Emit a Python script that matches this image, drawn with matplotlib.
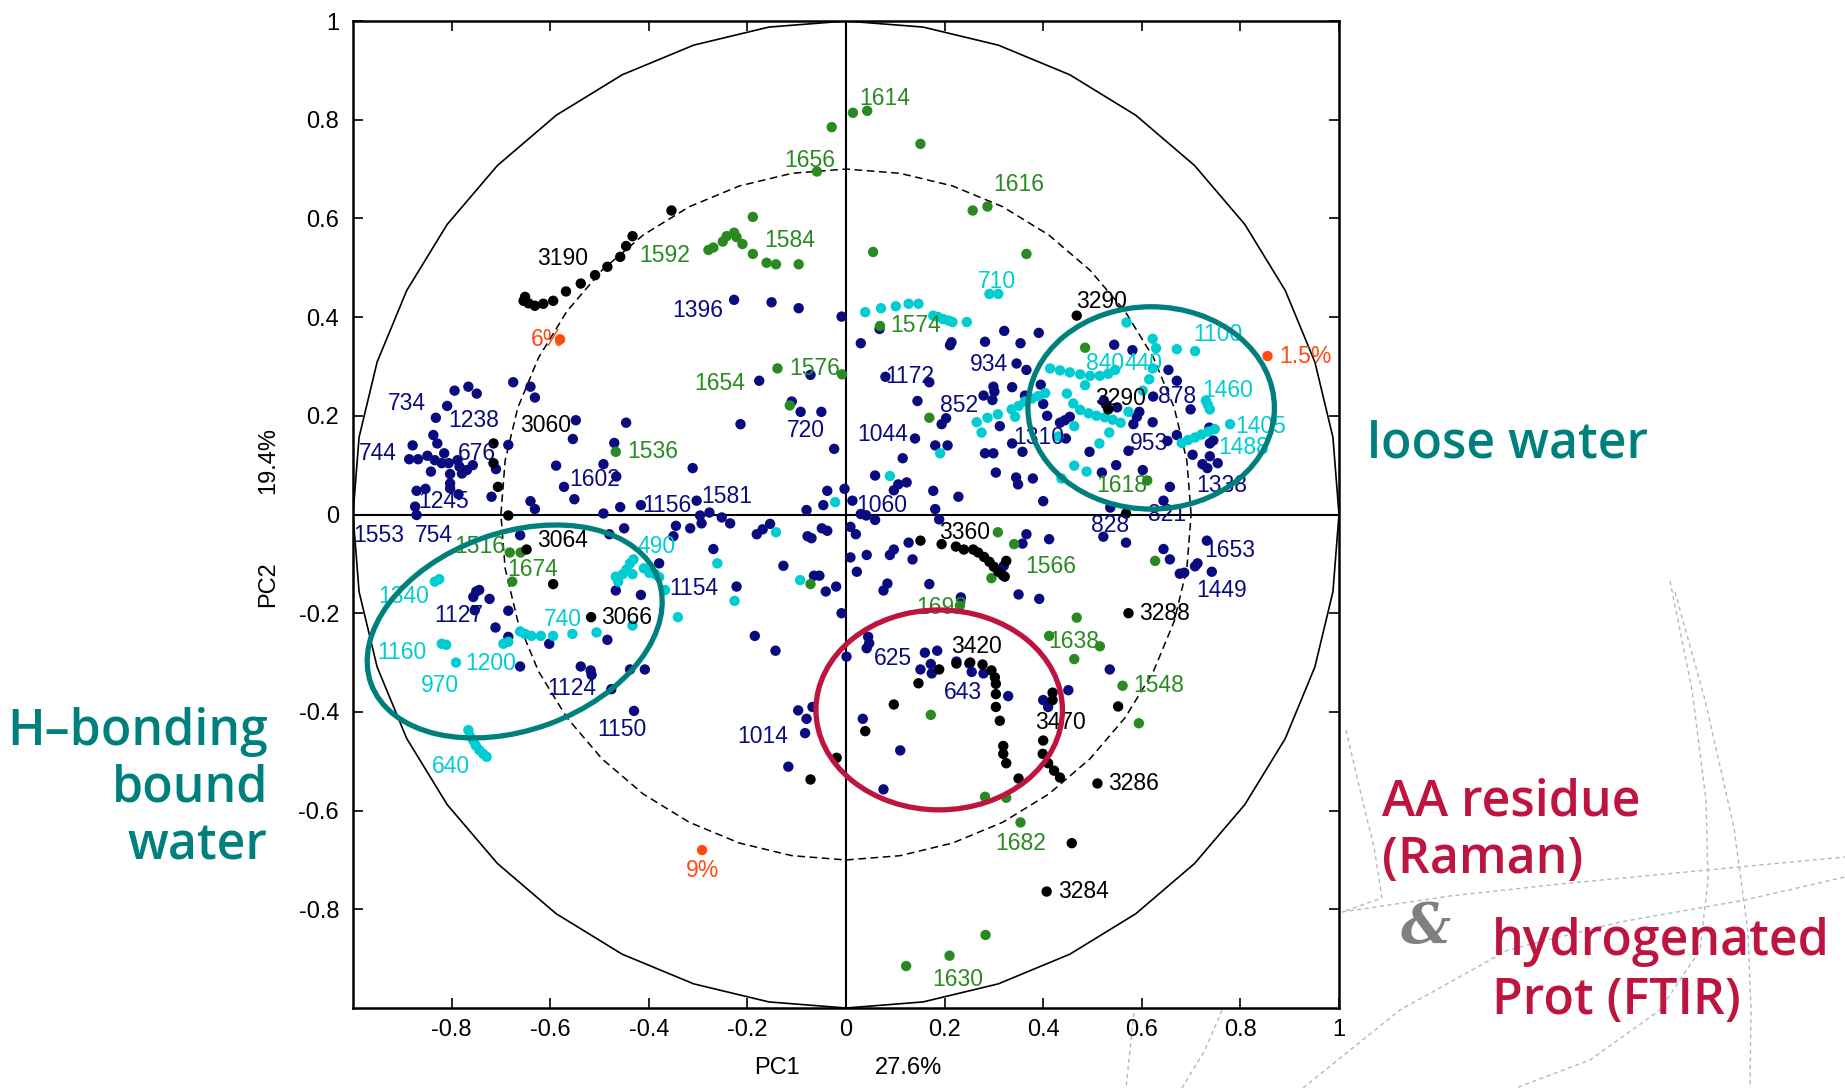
#!/usr/bin/env python3
# -*- coding: utf-8 -*-
"""PCA correlation circle: Raman / FTIR bands vs water content."""

import numpy as np
import matplotlib
matplotlib.use("Agg")
from matplotlib import pyplot as plt
from matplotlib.lines import Line2D
from matplotlib.patches import Ellipse

# ---- data (PC1, PC2) ----
navy_pts = [
    (-0.227, 0.435), (-0.151, 0.430), (-0.096, 0.418), (-0.009, 0.401), (0.030, 0.347),
    (-0.176, 0.271), (-0.072, 0.283), (-0.110, 0.229), (-0.092, 0.208), (-0.050, 0.208),
    (-0.214, 0.183), (-0.024, 0.133), (-0.038, 0.048), (-0.003, 0.052), (-0.080, 0.009),
    (-0.046, 0.019), (0.013, 0.028), (-0.311, 0.094), (-0.446, 0.186), (-0.548, 0.191),
    (-0.554, 0.153), (-0.588, 0.099), (-0.572, 0.056), (-0.551, 0.031), (-0.492, 0.102),
    (-0.470, 0.145), (-0.466, 0.077), (-0.640, 0.027), (-0.631, 0.011), (-0.492, 0.002),
    (-0.458, 0.015), (-0.416, 0.019), (-0.303, 0.028), (-0.296, -0.002), (-0.277, 0.004),
    (-0.719, 0.036), (-0.685, 0.141), (-0.675, 0.268), (-0.640, 0.259), (-0.631, 0.237),
    (-0.794, 0.251), (-0.766, 0.259), (-0.749, 0.245), (-0.809, 0.220), (-0.832, 0.196),
    (-0.837, 0.161), (-0.829, 0.144), (-0.815, 0.124), (-0.879, 0.140), (-0.886, 0.112),
    (-0.868, 0.112), (-0.849, 0.119), (-0.834, 0.110), (-0.820, 0.104), (-0.806, 0.104),
    (-0.842, 0.087), (-0.803, 0.082), (-0.788, 0.110), (-0.784, 0.097), (-0.779, 0.083),
    (-0.769, 0.090), (-0.757, 0.100), (-0.803, 0.063), (-0.803, 0.053), (-0.786, 0.041),
    (-0.871, 0.048), (-0.853, 0.052), (-0.874, 0.016), (-0.871, -0.001), (-0.710, 0.092),
    (0.068, 0.376), (0.211, 0.343), (0.214, 0.349), (0.282, 0.350), (0.321, 0.372),
    (0.354, 0.347), (0.391, 0.368), (0.080, 0.279), (0.169, 0.268), (0.346, 0.306),
    (0.366, 0.293), (0.299, 0.259), (0.301, 0.249), (0.279, 0.241), (0.297, 0.232),
    (0.337, 0.258), (0.363, 0.241), (0.365, 0.236), (0.395, 0.263), (0.145, 0.230),
    (0.312, 0.179), (0.194, 0.183), (0.203, 0.195), (0.408, 0.200), (0.400, 0.224),
    (0.434, 0.186), (0.444, 0.191), (0.454, 0.198), (0.140, 0.154), (0.181, 0.140),
    (0.206, 0.140), (0.337, 0.144), (0.358, 0.127), (0.282, 0.124), (0.299, 0.124),
    (0.304, 0.085), (0.115, 0.114), (0.059, 0.079), (0.097, 0.049), (0.106, 0.061),
    (0.123, 0.065), (0.177, 0.048), (0.228, 0.036), (0.345, 0.075), (0.349, 0.061),
    (0.379, 0.073), (0.400, 0.027), (0.181, 0.011), (0.189, -0.010), (0.030, 0.001),
    (0.041, -0.002), (0.059, -0.011), (0.446, 0.154), (0.494, 0.127), (0.544, 0.344),
    (0.581, 0.333), (0.523, 0.231), (0.527, 0.223), (0.550, 0.217), (0.595, 0.208),
    (0.590, 0.198), (0.583, 0.183), (0.573, 0.129), (0.548, 0.100), (0.602, 0.090),
    (0.622, 0.187), (0.623, 0.239), (0.654, 0.293), (0.671, 0.271), (0.699, 0.213),
    (0.671, 0.161), (0.652, 0.149), (0.703, 0.121), (0.737, 0.176), (0.738, 0.144),
    (0.745, 0.150), (0.738, 0.118), (0.723, 0.102), (0.733, 0.094), (0.754, 0.104),
    (0.657, 0.056), (0.644, 0.028), (0.536, 0.014), (0.519, 0.085),
    (-0.661, -0.042), (-0.750, -0.156), (-0.744, -0.153), (-0.756, -0.167), (-0.723, -0.171),
    (-0.753, -0.194), (-0.685, -0.195), (-0.711, -0.229), (-0.685, -0.248), (-0.602, -0.262),
    (-0.661, -0.308), (-0.538, -0.308), (-0.518, -0.316), (-0.516, -0.325), (-0.484, -0.254),
    (-0.467, -0.154), (-0.416, -0.163), (-0.379, -0.099), (-0.476, -0.354), (-0.438, -0.314),
    (-0.408, -0.314), (-0.430, -0.398), (-0.450, -0.028), (-0.480, -0.040), (-0.345, -0.023),
    (-0.316, -0.028), (-0.350, -0.044), (-0.293, -0.018), (-0.252, -0.006), (-0.235, -0.018),
    (-0.269, -0.070), (-0.181, -0.040), (-0.169, -0.030), (-0.154, -0.019), (-0.127, -0.104),
    (-0.078, -0.044), (-0.070, -0.048), (-0.049, -0.028), (-0.038, -0.033), (-0.065, -0.124),
    (-0.054, -0.124), (-0.041, -0.156), (-0.020, -0.146), (-0.222, -0.146), (-0.185, -0.246),
    (-0.143, -0.276), (-0.009, -0.200), (0.001, -0.288), (-0.097, -0.397), (-0.080, -0.414),
    (-0.068, -0.390), (-0.083, -0.443), (-0.117, -0.511),
    (0.009, -0.025), (0.020, -0.040), (0.009, -0.087), (0.042, -0.082), (0.022, -0.116),
    (0.089, -0.082), (0.097, -0.071), (0.135, -0.091), (0.127, -0.057), (0.076, -0.154),
    (0.084, -0.140), (0.169, -0.141), (0.233, -0.168), (0.320, -0.104), (0.350, -0.162),
    (0.392, -0.171), (0.358, -0.059), (0.366, -0.040), (0.412, -0.050), (0.522, -0.045),
    (0.568, -0.057), (0.644, -0.070), (0.657, -0.091), (0.677, -0.120), (0.686, -0.118),
    (0.708, -0.105), (0.713, -0.099), (0.742, -0.116), (0.732, -0.053), (0.535, -0.314),
    (0.451, -0.356), (0.400, -0.376), (0.410, -0.390), (0.329, -0.368), (0.045, -0.248),
    (0.047, -0.261), (0.042, -0.271), (0.160, -0.280), (0.185, -0.276), (0.151, -0.314),
    (0.172, -0.303), (0.174, -0.322), (0.224, -0.298), (0.250, -0.302), (0.255, -0.319),
    (0.279, -0.322), (0.034, -0.414), (0.110, -0.478), (0.076, -0.557),
]

cyan_pts = [
    (0.291, 0.447), (0.309, 0.447),
    (0.039, 0.410), (0.071, 0.418), (0.101, 0.422), (0.127, 0.427), (0.147, 0.427),
    (0.177, 0.403), (0.187, 0.400), (0.197, 0.396), (0.208, 0.393), (0.216, 0.390), (0.245, 0.390),
    (0.414, 0.296), (0.434, 0.292), (0.454, 0.288), (0.475, 0.284), (0.495, 0.281),
    (0.515, 0.281), (0.532, 0.285), (0.546, 0.293), (0.485, 0.262),
    (0.569, 0.389), (0.622, 0.356), (0.629, 0.337), (0.622, 0.296), (0.615, 0.274), (0.602, 0.251),
    (0.671, 0.335), (0.708, 0.331), (0.730, 0.231), (0.734, 0.222), (0.738, 0.213),
    (0.681, 0.145), (0.694, 0.151), (0.708, 0.156), (0.721, 0.162), (0.735, 0.168),
    (0.748, 0.173), (0.779, 0.183),
    (0.448, 0.245), (0.461, 0.225), (0.475, 0.212), (0.492, 0.205), (0.508, 0.200),
    (0.525, 0.197), (0.541, 0.192), (0.557, 0.186), (0.573, 0.208),
    (0.463, 0.179), (0.534, 0.166), (0.514, 0.144), (0.463, 0.099), (0.488, 0.087),
    (0.437, 0.073), (0.431, 0.158),
    (0.336, 0.213), (0.350, 0.220), (0.363, 0.229), (0.377, 0.235), (0.390, 0.240),
    (0.404, 0.246), (0.343, 0.198), (0.265, 0.187), (0.287, 0.196), (0.308, 0.203),
    (0.275, 0.166), (0.191, 0.124), (0.089, 0.078), (-0.022, 0.025),
    (-0.142, -0.036), (-0.261, -0.099), (-0.093, -0.133), (-0.226, -0.175), (-0.341, -0.208),
    (-0.467, -0.126), (-0.462, -0.136), (-0.453, -0.121), (-0.445, -0.111), (-0.438, -0.099),
    (-0.431, -0.091), (-0.433, -0.121), (-0.410, -0.109), (-0.399, -0.118), (-0.387, -0.121),
    (-0.379, -0.127), (-0.367, -0.153), (-0.433, -0.225),
    (-0.661, -0.237), (-0.651, -0.242), (-0.638, -0.246), (-0.619, -0.246), (-0.594, -0.246),
    (-0.555, -0.242), (-0.506, -0.239), (-0.695, -0.262), (-0.685, -0.258),
    (-0.834, -0.136), (-0.825, -0.131), (-0.820, -0.262), (-0.811, -0.264), (-0.791, -0.300),
    (-0.766, -0.437), (-0.763, -0.449), (-0.756, -0.458), (-0.751, -0.468), (-0.744, -0.477),
    (-0.736, -0.485), (-0.729, -0.491),
]

green_pts = [
    (-0.029, 0.785), (0.014, 0.814), (0.043, 0.818), (0.151, 0.751), (-0.059, 0.695),
    (0.257, 0.616), (0.287, 0.624), (0.055, 0.532), (0.366, 0.528), (0.485, 0.338),
    (-0.008, 0.284), (0.169, 0.196), (0.611, 0.069), (0.069, 0.382),
    (-0.279, 0.536), (-0.269, 0.541), (-0.250, 0.553), (-0.242, 0.564), (-0.227, 0.571),
    (-0.222, 0.562), (-0.210, 0.548), (-0.189, 0.528), (-0.161, 0.510), (-0.142, 0.507),
    (-0.096, 0.507), (-0.189, 0.603), (-0.139, 0.296), (-0.114, 0.221), (-0.467, 0.127),
    (-0.682, -0.077), (-0.660, -0.077), (-0.677, -0.136), (-0.072, -0.141),
    (0.308, -0.036), (0.341, -0.060), (0.295, -0.129), (0.468, -0.209), (0.412, -0.246),
    (0.515, -0.267), (0.463, -0.293), (0.561, -0.347), (0.594, -0.423), (0.172, -0.406),
    (0.231, -0.185), (0.282, -0.572), (0.325, -0.574), (0.627, -0.094),
    (0.354, -0.624), (0.283, -0.852), (0.210, -0.894), (0.122, -0.915),
]

black_pts = [
    (-0.651, 0.441), (-0.654, 0.433), (-0.644, 0.428), (-0.631, 0.423), (-0.614, 0.427),
    (-0.594, 0.433), (-0.568, 0.452), (-0.538, 0.468), (-0.509, 0.485), (-0.484, 0.502),
    (-0.458, 0.522), (-0.446, 0.544), (-0.433, 0.564), (-0.354, 0.616),
    (-0.715, 0.144), (-0.715, 0.104), (-0.706, 0.056), (-0.685, -0.002),
    (-0.648, -0.071), (-0.594, -0.141), (-0.517, -0.208), (-0.019, -0.493), (-0.072, -0.537),
    (0.151, -0.053), (0.194, -0.060), (0.223, -0.065), (0.239, -0.071), (0.258, -0.071),
    (0.268, -0.077), (0.280, -0.086), (0.291, -0.096), (0.300, -0.106), (0.309, -0.116),
    (0.318, -0.123), (0.322, -0.126), (0.325, -0.094),
    (0.573, -0.200),
    (0.147, -0.342), (0.189, -0.314), (0.224, -0.302), (0.252, -0.300), (0.277, -0.304),
    (0.295, -0.316), (0.302, -0.330), (0.304, -0.343), (0.304, -0.364), (0.304, -0.390),
    (0.312, -0.418), (0.319, -0.469), (0.319, -0.485), (0.325, -0.504), (0.350, -0.535),
    (0.097, -0.385), (0.039, -0.439),
    (0.419, -0.361), (0.419, -0.376), (0.400, -0.458), (0.399, -0.485), (0.410, -0.504),
    (0.422, -0.519), (0.434, -0.533),
    (0.552, -0.389), (0.510, -0.545), (0.458, -0.666), (0.407, -0.764),
    (0.468, 0.403), (0.532, 0.213), (0.568, 0.002),
]

orange_pts = [(-0.580, 0.355), (0.855, 0.321), (-0.292, -0.680)]

navy_labels = [
    ("734", -0.890, 0.225), ("1238", -0.755, 0.191), ("744", -0.949, 0.124),
    ("676", -0.748, 0.124), ("1245", -0.817, 0.026), ("1553", -0.947, -0.042),
    ("754", -0.836, -0.042), ("1127", -0.786, -0.204), ("1124", -0.556, -0.352),
    ("1150", -0.455, -0.435), ("1014", -0.169, -0.450), ("1154", -0.308, -0.150),
    ("1156", -0.364, 0.019), ("1581", -0.242, 0.036), ("1602", -0.509, 0.070),
    ("1396", -0.300, 0.414), ("720", -0.081, 0.171), ("1172", 0.130, 0.279),
    ("1044", 0.074, 0.163), ("1060", 0.072, 0.019), ("852", 0.230, 0.220),
    ("934", 0.289, 0.303), ("1310", 0.390, 0.156), ("953", 0.615, 0.144),
    ("878", 0.671, 0.239), ("1338", 0.762, 0.058), ("821", 0.652, 0.000),
    ("828", 0.535, -0.023), ("1653", 0.779, -0.072), ("1449", 0.762, -0.153),
    ("625", 0.095, -0.292), ("643", 0.238, -0.360),
]
cyan_labels = [
    ("710", 0.306, 0.473), ("840", 0.525, 0.306), ("440", 0.603, 0.306),
    ("1100", 0.755, 0.364), ("1460", 0.774, 0.251), ("1405", 0.841, 0.179),
    ("1488", 0.806, 0.136), ("490", -0.385, -0.065), ("1340", -0.898, -0.167),
    ("1160", -0.901, -0.279), ("1200", -0.721, -0.302), ("970", -0.824, -0.346),
    ("740", -0.575, -0.212), ("640", -0.802, -0.511),
]
green_labels = [
    ("1614", 0.079, 0.843), ("1656", -0.073, 0.717), ("1616", 0.350, 0.668),
    ("1592", -0.367, 0.524), ("1584", -0.115, 0.555), ("1576", -0.063, 0.296),
    ("1654", -0.257, 0.266), ("1574", 0.142, 0.382), ("1536", -0.392, 0.127),
    ("1618", 0.559, 0.058), ("1516", -0.742, -0.065), ("1674", -0.636, -0.111),
    ("1566", 0.415, -0.106), ("1692", 0.194, -0.188), ("1638", 0.462, -0.258),
    ("1548", 0.634, -0.346), ("1682", 0.355, -0.666), ("1630", 0.226, -0.943),
]
black_labels = [
    ("3190", -0.575, 0.519), ("3060", -0.609, 0.181), ("3064", -0.575, -0.053),
    ("3066", -0.445, -0.208), ("3290", 0.519, 0.431), ("3290", 0.556, 0.235),
    ("3360", 0.241, -0.037), ("3288", 0.646, -0.200), ("3420", 0.264, -0.267),
    ("3470", 0.435, -0.422), ("3286", 0.583, -0.545), ("3284", 0.481, -0.764),
]
orange_labels = [("6%", -0.606, 0.355), ("1.5%", 0.931, 0.321), ("9%", -0.291, -0.722)]

tick_vals = [-0.8, -0.6, -0.4, -0.2, 0, 0.2, 0.4, 0.6, 0.8, 1]
tick_text = ["-0.8", "-0.6", "-0.4", "-0.2", "0", "0.2", "0.4", "0.6", "0.8", "1"]

NAVY = "#0b0b80"
CYAN = "#00cdd2"
GREEN = "#2a8a22"
BLACK = "#000000"
ORANGE = "#ff4a12"
TEAL = "#00807c"
CRIMSON = "#be1440"
BG_LINE = "#a9bccb"

W, H = 1845, 1088


def fig_xy(px, py):
    '''pixel position -> figure fraction'''
    return px / W, 1 - py / H


def draw_background(fig):
    '''light dashed arcs of the slide template'''
    curves = [
        [(1670, 581), (1692, 690), (1706, 800), (1708, 880), (1700, 950),
         (1660, 1010), (1590, 1060), (1516, 1088)],
        [(1675, 592), (1705, 700), (1734, 828), (1748, 932), (1751, 1010), (1750, 1088)],
        [(1342, 912), (1450, 896), (1560, 884), (1707, 870), (1845, 857)],
        [(1303, 1088), (1400, 1010), (1508, 950), (1620, 922), (1745, 900), (1845, 877)],
        [(1346, 730), (1360, 790), (1374, 847), (1382, 898), (1342, 912)],
        [(1134, 1013), (1130, 1050), (1126, 1088)],
        [(1222, 1010), (1205, 1050), (1182, 1088)],
    ]
    for c in curves:
        xs, ys = zip(*[fig_xy(px, py) for px, py in c])
        fig.add_artist(Line2D(xs, ys, color=BG_LINE, lw=1.0,
                              linestyle=(0, (3, 2.5)), zorder=0))


def draw_circles(ax):
    '''unit circle and 0.7 circle, coarse polygons like the original'''
    t = np.linspace(0, 2 * np.pi, 41)
    ax.plot(np.cos(t), np.sin(t), color="black", lw=1.2, zorder=1)
    ax.plot(0.7 * np.cos(t), 0.7 * np.sin(t), color="black", lw=1.1,
            linestyle=(0, (5, 3)), zorder=1)
    ax.axhline(0, color="black", lw=1.5, zorder=1)
    ax.axvline(0, color="black", lw=1.5, zorder=1)


def draw_points(ax):
    '''scatter of the loadings and their labels'''
    groups = [
        (navy_pts, navy_labels, NAVY),
        (cyan_pts, cyan_labels, CYAN),
        (green_pts, green_labels, GREEN),
        (black_pts, black_labels, BLACK),
        (orange_pts, orange_labels, ORANGE),
    ]
    for pts, labels, col in groups:
        arr = np.array(pts)
        ax.scatter(arr[:, 0], arr[:, 1], s=56, color=col, edgecolors="none", zorder=2)
    for pts, labels, col in groups:
        for txt, x, y in labels:
            ax.text(x, y, txt, color=col, fontsize=16.5, ha="center", va="center",
                    family="Liberation Sans", zorder=3)


def draw_ellipses(ax):
    '''highlight regions'''
    ax.add_patch(Ellipse((0.619, 0.216), 0.50, 0.41, angle=0, fill=False,
                         ec=TEAL, lw=3.8, zorder=4))
    ax.add_patch(Ellipse((-0.672, -0.237), 0.62, 0.40, angle=20, fill=False,
                         ec=TEAL, lw=3.8, zorder=4))
    ax.add_patch(Ellipse((0.189, -0.396), 0.50, 0.405, angle=0, fill=False,
                         ec=CRIMSON, lw=3.8, zorder=4))


def style_axes(ax):
    '''ticks, limits, frame'''
    ax.set_xlim(-1, 1)
    ax.set_ylim(-1, 1)
    ax.set_xticks(tick_vals)
    ax.set_xticklabels(tick_text)
    ax.set_yticks(tick_vals)
    ax.set_yticklabels(tick_text)
    ax.tick_params(direction="in", length=7, width=1.2, top=True, right=True,
                   labelsize=17)
    ax.tick_params(axis="x", pad=8)
    ax.tick_params(axis="y", pad=10)
    for lab in ax.get_xticklabels() + ax.get_yticklabels():
        lab.set_family("Liberation Sans")
    for sp in ax.spines.values():
        sp.set_linewidth(1.8)


def draw_annotations(fig):
    '''axis titles and the slide captions'''
    big = dict(family="Open Sans", fontweight="semibold", fontsize=36)
    fig.text(*fig_xy(777, 1068), "PC1", fontsize=17, family="Liberation Sans",
             ha="center", va="center")
    fig.text(*fig_xy(909, 1068), "27.6%", fontsize=17, family="Liberation Sans",
             ha="center", va="center")
    fig.text(*fig_xy(268, 584), "PC2", fontsize=17, family="Liberation Sans",
             ha="center", va="center", rotation=90)
    fig.text(*fig_xy(268, 461), "19.4%", fontsize=17, family="Liberation Sans",
             ha="center", va="center", rotation=90)

    fig.text(*fig_xy(1367, 457), "loose water", color=TEAL, ha="left",
             va="baseline", **big)
    fig.text(*fig_xy(268, 745), "H\u2013bonding", color=TEAL, ha="right",
             va="baseline", **big)
    fig.text(*fig_xy(268, 802), "bound", color=TEAL, ha="right", va="baseline", **big)
    fig.text(*fig_xy(268, 859), "water", color=TEAL, ha="right", va="baseline", **big)

    fig.text(*fig_xy(1382, 815), "AA residue", color=CRIMSON, ha="left",
             va="baseline", **big)
    fig.text(*fig_xy(1382, 873), "(Raman)", color=CRIMSON, ha="left",
             va="baseline", **big)
    fig.text(*fig_xy(1426, 928), "&", color="#808080", ha="center", va="center",
             family="DejaVu Serif", fontstyle="italic", fontweight="bold", fontsize=40)
    fig.text(*fig_xy(1492, 955), "hydrogenated", color=CRIMSON, ha="left",
             va="baseline", **big)
    fig.text(*fig_xy(1492, 1014), "Prot (FTIR)", color=CRIMSON, ha="left",
             va="baseline", **big)


def main():
    '''Launch main steps'''
    fig = plt.figure(figsize=(W / 100, H / 100), dpi=100)
    draw_background(fig)
    ax = fig.add_axes([353 / W, 1 - 1008 / H, 986 / W, 987 / H])
    ax.set_facecolor("none")
    draw_circles(ax)
    draw_points(ax)
    draw_ellipses(ax)
    style_axes(ax)
    draw_annotations(fig)
    fig.savefig("out.png", dpi=100)


if __name__ == "__main__":
    main()
